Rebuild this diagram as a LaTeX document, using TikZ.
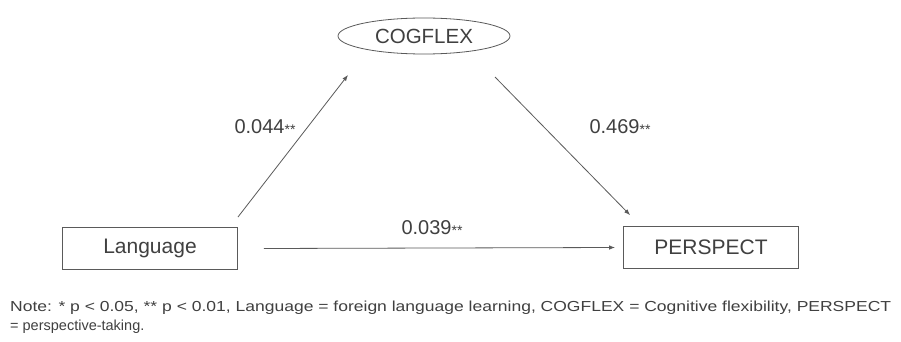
\documentclass[tikz,border=0pt]{standalone}
\usepackage{fontspec}
\setmainfont{Liberation Sans}
\usetikzlibrary{shapes.geometric,arrows.meta}
\definecolor{ln}{HTML}{5A5A5A}
\definecolor{tx}{HTML}{404040}
\newcommand{\stars}{{\fontsize{14}{14}\selectfont\raisebox{-0.2ex}{**}}}
\begin{document}
\begin{tikzpicture}[x=1pt,y=-1pt,
  every node/.style={text=tx},
  boxnode/.style={draw=ln,line width=0.8pt,minimum width=175pt,minimum height=42pt,inner sep=0pt,font=\fontsize{21}{24}\selectfont},
  ellnode/.style={draw=ln,line width=0.8pt,ellipse,minimum width=172pt,minimum height=36pt,inner sep=0pt,font=\fontsize{20.5}{24}\selectfont},
  coef/.style={font=\fontsize{20}{23}\selectfont,inner sep=0pt},
  arr/.style={draw=ln,line width=0.8pt,-{Latex[length=6pt,width=4.5pt]}},
  notetext/.style={font=\fontsize{14.5}{18}\selectfont,inner sep=0pt,anchor=west}]
\useasboundingbox (0,0) rectangle (901,342);
\fill[white] (0,0) rectangle (901,342);
\node[ellnode] (cog) at (424,36) {COGFLEX};
\node[boxnode] (lang) at (150,248.5) {Language};
\node[boxnode] (per) at (711,247.5) {PERSPECT};
\draw[arr] ([yshift=10pt]lang.north east) -- ([xshift=-76pt,yshift=-39pt]cog.center);
\draw[arr] ([xshift=71pt,yshift=-41pt]cog.center) -- ([xshift=7pt,yshift=11pt]per.north west);
\draw[arr] ([xshift=26pt]lang.east) -- ([xshift=-8pt]per.west);
\node[coef] (c1) at (265,127) {0.044\stars};
\node[coef] (c2) at (620,127) {0.469\stars};
\node[coef] (c3) at (432,228) {0.039\stars};
\node[notetext] (n1) at (10,308) {\resizebox{881pt}{\height}{Note: * p < 0.05, ** p < 0.01, Language = foreign language learning, COGFLEX = Cognitive flexibility, PERSPECT}};
\node[notetext] (n2) at (10,327) {= perspective-taking.};
\end{tikzpicture}
\end{document}
